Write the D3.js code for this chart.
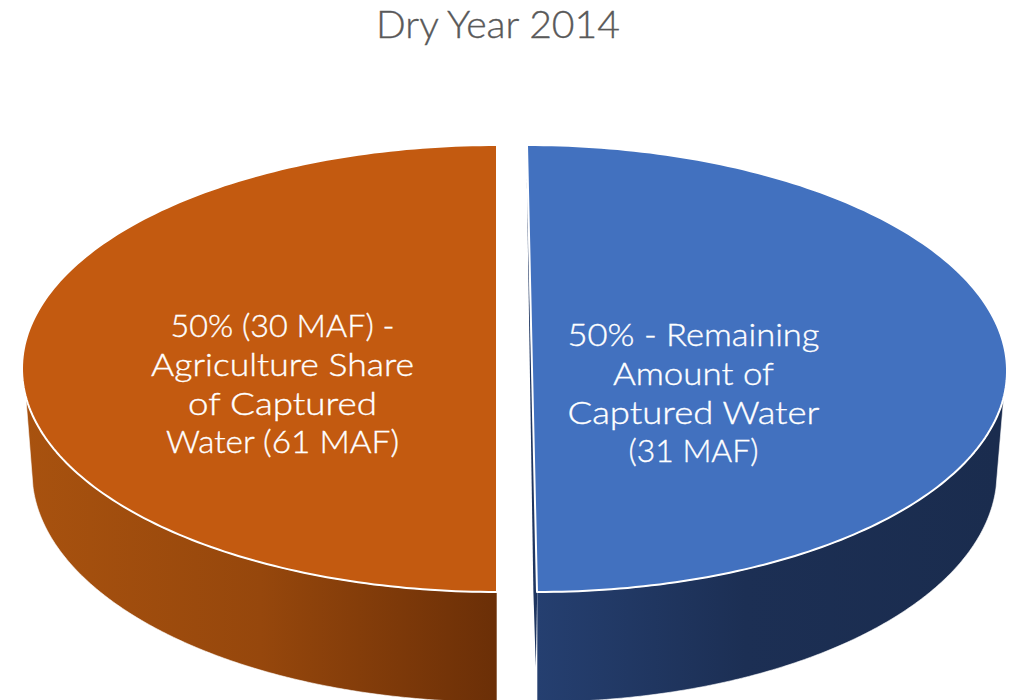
<!DOCTYPE html>
<html><head><meta charset="utf-8">
<style>html,body{margin:0;padding:0;background:#fff;overflow:hidden}svg{display:block}text{font-family:Lato,"Open Sans",sans-serif;font-weight:300}</style>
<script src="https://cdn.jsdelivr.net/npm/d3@7"></script>
</head><body><div id="c"></div>
<script>
const chartTitle = "Dry Year 2014";
const categories = ["Remaining Amount of Captured Water", "Agriculture Share of Captured Water"];
const shares = [50, 50];
const labelLines = [
  ["50% - Remaining", "Amount of", "Captured Water", "(31 MAF)"],
  ["50% (30 MAF) -", "Agriculture Share", "of Captured", "Water (61 MAF)"]
];

const W = 1009, H = 700;
const svg = d3.select("#c").append("svg").attr("width", W).attr("height", H);
const defs = svg.append("defs");
const pie = d3.pie().sort(null)(shares);
const deg = Math.PI / 180;

const geom = [
  { top:{cx:532,cy:368.5,rx:475,ry:223.5,skew:-5}, base:{cx:532,cy:470,rx:465,ry:232,skew:-5},
    fill:"#4271BF", rimTop:97.3*deg, rimBase:94.2*deg, reverse:false,
    stops:[[0,"#253F70"],[0.45,"#1C2F54"],[1,"#1A2C4E"]], gx:[537,1000],
    lx:693.5, ly:346, fit:[252,161,252,130] },
  { top:{cx:497,cy:368.5,rx:475,ry:223.5,skew:0}, base:{cx:497,cy:472,rx:465,ry:230,skew:0},
    fill:"#C35A10", rimTop:262.7*deg, rimBase:266.3*deg, reverse:true,
    stops:[[0,"#A8520F"],[0.5,"#96470C"],[1,"#6B2F07"]], gx:[25,497],
    lx:282.5, ly:337, fit:[224,263,189,233] }
];

function pt(e, a){
  const X = d3.scaleLinear().domain([-1,1]).range([e.cx-e.rx, e.cx+e.rx]);
  const Y = d3.scaleLinear().domain([-1,1]).range([e.cy-e.ry, e.cy+e.ry]);
  return [X(Math.sin(a)) + e.skew*Math.cos(a), Y(-Math.cos(a))];
}
function sweep(e, a0, a1, n=180){
  return d3.range(n+1).map(i => pt(e, a0 + (a1-a0)*i/n));
}
const line = d3.line();

geom.forEach((g,i)=>{
  const d = pie[i];
  const grad = defs.append("linearGradient").attr("id","wall"+i)
    .attr("gradientUnits","userSpaceOnUse")
    .attr("x1",g.gx[0]).attr("x2",g.gx[1]).attr("y1",0).attr("y2",0);
  g.stops.forEach(s=>grad.append("stop").attr("offset",s[0]).attr("stop-color",s[1]));

  // outer wall
  const mid = g.reverse ? d.startAngle : d.endAngle;
  const wall = [...sweep(g.top, g.rimTop, mid), ...sweep(g.base, mid, g.rimBase)];
  svg.append("path").attr("d", line(wall)+"Z").attr("fill","url(#wall"+i+")")
     .attr("stroke","#fff").attr("stroke-width",0.6);
});

// thin visible cut face of the blue slice
const cut = [pt(geom[0].top,-0.0), pt(geom[0].top,Math.PI), pt(geom[0].base,Math.PI)];
const cutFace = [
  [cut[0][0]-0.2, cut[0][1]+33],
  [cut[1][0]-3.6, cut[1][1]],
  [cut[2][0]-1.2, cut[1][1]+75],
  [cut[1][0]+0.2, cut[1][1]]
];
svg.append("path").attr("d", line(cutFace)+"Z").attr("fill","#1E3560");

// top faces
geom.forEach((g,i)=>{
  const d = pie[i];
  const pts = [[g.top.cx,g.top.cy], ...sweep(g.top,d.startAngle,d.endAngle)];
  svg.append("path").attr("d", line(pts)+"Z").attr("fill",g.fill)
     .attr("stroke","#fff").attr("stroke-width",2).attr("stroke-linejoin","round");
});

// labels
geom.forEach((g,i)=>{
  svg.append("g").selectAll("text").data(labelLines[i]).join("text")
    .attr("x",g.lx).attr("y",(t,j)=>g.ly+j*38.8)
    .attr("text-anchor","middle").attr("fill","#fff")
    .attr("stroke","#fff").attr("stroke-width",0.35)
    .attr("font-size",30.5)
    .attr("textLength",(t,j)=>g.fit[j]).attr("lengthAdjust","spacingAndGlyphs")
    .text(t=>t);
});

svg.append("text").attr("x",498).attr("y",38).attr("text-anchor","middle")
  .attr("fill","#595959").attr("stroke","#595959").attr("stroke-width",0.35)
  .attr("font-size",38).attr("textLength",244).attr("lengthAdjust","spacingAndGlyphs").text(chartTitle);
</script></body></html>
